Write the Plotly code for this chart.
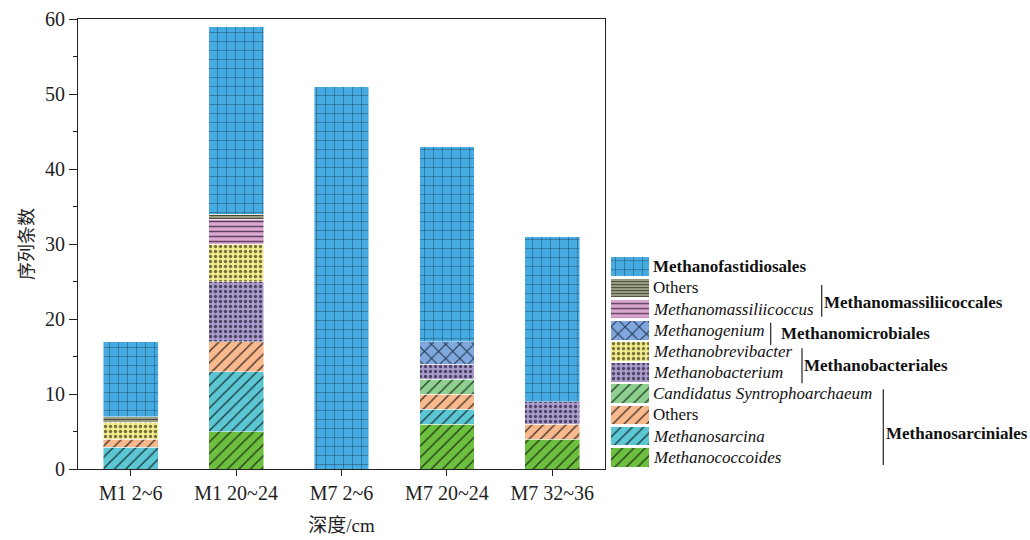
import plotly.graph_objects as go

# ---- data: sequence counts per sample (stacked, bottom to top) ----
samples = ["M1 2~6", "M1 20~24", "M7 2~6", "M7 20~24", "M7 32~36"]

methanococcoides = [0, 5, 0, 6, 4]
methanosarcina = [2.9, 8, 0, 2, 0]
others_sarciniales = [1.1, 4, 0, 2, 2]
candidatus_syntrophoarchaeum = [0, 0, 0, 2, 0]
methanobacterium = [0, 8, 0, 2, 3]
methanobrevibacter = [2.25, 5, 0, 0, 0]
methanogenium = [0, 0, 0, 3, 0]
methanomassiliicoccus = [0, 3.3, 0, 0, 0]
others_massiliicoccales = [0.75, 0.7, 0, 0, 0]
methanofastidiosales = [10, 25, 51, 26, 22]

y_ticks = [0, 10, 20, 30, 40, 50, 60]

# ---- series styling (bottom of stack first) ----
series = [
    dict(label="<i>Methanococcoides</i>", values=methanococcoides,
         color="#6cbf3f", shape="/", size=8, solidity=0.18, fg="#1b2a10"),
    dict(label="<i>Methanosarcina</i>", values=methanosarcina,
         color="#5cc6d3", shape="/", size=8, solidity=0.18, fg="#10282b"),
    dict(label="Others", values=others_sarciniales,
         color="#f8b98f", shape="/", size=8, solidity=0.18, fg="#2e2015"),
    dict(label="<i>Candidatus Syntrophoarchaeum</i>", values=candidatus_syntrophoarchaeum,
         color="#8fcf90", shape="/", size=8, solidity=0.18, fg="#15301a"),
    dict(label="<i>Methanobacterium</i>", values=methanobacterium,
         color="#a99bcb", shape=".", size=5, solidity=0.35, fg="#3d3450"),
    dict(label="<i>Methanobrevibacter</i>", values=methanobrevibacter,
         color="#f1ec8e", shape=".", size=5, solidity=0.35, fg="#5e5a2c"),
    dict(label="<i>Methanogenium</i>", values=methanogenium,
         color="#80a8dc", shape="x", size=10, solidity=0.2, fg="#10203a"),
    dict(label="<i>Methanomassiliicoccus</i>", values=methanomassiliicoccus,
         color="#dba8d3", shape="-", size=5, solidity=0.3, fg="#4b3049"),
    dict(label="Others", values=others_massiliicoccales,
         color="#a3a689", shape="-", size=3, solidity=0.4, fg="#3a3b2e"),
    dict(label="<b>Methanofastidiosales</b>", values=methanofastidiosales,
         color="#45abe1", shape="+", size=9, solidity=0.1, fg="#1a3550"),
]

# ---- layout geometry (pixels) ----
W, H = 1030, 540
ML, MR, MT, MB = 78, 10, 19, 71
PW, PH = W - ML - MR, H - MT - MB
PLOT_RIGHT = 605


def px_x(px):
    return (px - ML) / PW


def px_y(py):
    return (H - MB - py) / PH


SERIF = "Liberation Serif, Times New Roman, serif"
CJK = "Liberation Serif, Noto Sans CJK SC, serif"
TEXT = "#111111"
AXIS = "#222222"

fig = go.Figure()

for s in series:
    vals = [v if v else None for v in s["values"]]
    pat = dict(shape=s["shape"], size=s["size"], solidity=s["solidity"],
               fgcolor=s["fg"], fillmode="overlay", fgopacity=0.85)
    fig.add_trace(go.Bar(
        x=samples, y=vals, width=0.52, showlegend=False,
        marker=dict(color=s["color"], pattern=pat,
                    line=dict(width=0.6, color="rgba(255,255,255,0.8)")),
        xaxis="x", yaxis="y",
    ))

# legend swatches drawn as bars on a hidden auxiliary axis
legend_order = list(reversed(series))
for i, s in enumerate(legend_order):
    pat = dict(shape=s["shape"], size=s["size"], solidity=s["solidity"],
               fgcolor=s["fg"], fillmode="overlay", fgopacity=0.85)
    fig.add_trace(go.Bar(
        x=[1], y=[i], orientation="h", width=0.88, showlegend=False,
        marker=dict(color=s["color"], pattern=pat, line=dict(width=0)),
        xaxis="x2", yaxis="y2", hoverinfo="skip",
    ))
    fig.add_annotation(
        x=px_x(651), xref="paper", y=i, yref="y2", text=s["label"],
        showarrow=False, xanchor="left", yanchor="middle",
        font=dict(family=SERIF, size=17, color=TEXT),
    )

# order brackets next to the legend
groups = [
    ("Methanomassiliicoccales", 821.7, 285, 316.7, 822, 302.3),
    ("Methanomicrobiales", 770.7, 322.7, 345, 779, 333.3),
    ("Methanobacteriales", 802, 348.3, 383.3, 802, 365),
    ("Methanosarciniales", 883.3, 389.3, 465, 884, 433),
]
for name, lx, y0, y1, tx, ty in groups:
    fig.add_shape(type="line", xref="paper", yref="paper",
                  x0=px_x(lx), x1=px_x(lx), y0=px_y(y0), y1=px_y(y1),
                  line=dict(color=AXIS, width=1.2))
    fig.add_annotation(
        x=px_x(tx), xref="paper", y=px_y(ty), yref="paper",
        text=f"<b>{name}</b>", showarrow=False, xanchor="left", yanchor="middle",
        font=dict(family=SERIF, size=17, color=TEXT),
    )

fig.update_layout(
    width=W, height=H,
    margin=dict(l=ML, r=MR, t=MT, b=MB),
    paper_bgcolor="white", plot_bgcolor="white",
    barmode="stack", bargap=0.48,
    font=dict(family=SERIF, size=20, color=AXIS),
    xaxis=dict(
        domain=[0, px_x(PLOT_RIGHT)], type="category", range=[-0.5, 4.5],
        automargin=False,
        showline=True, linecolor=AXIS, linewidth=1.2, mirror=True,
        ticks="outside", ticklen=6, tickwidth=1.2, tickcolor=AXIS,
        tickfont=dict(family=SERIF, size=20, color=AXIS),
        showgrid=False, zeroline=False,
        title=dict(text="深度/cm", font=dict(family=CJK, size=19, color=AXIS), standoff=15),
    ),
    yaxis=dict(
        domain=[0, 1], range=[0, 60], tickvals=y_ticks,
        automargin=False,
        showline=True, linecolor=AXIS, linewidth=1.2, mirror=True,
        ticks="outside", ticklen=8, tickwidth=1.2, tickcolor=AXIS,
        minor=dict(ticks="outside", ticklen=4, dtick=5, tickwidth=1.2,
                   tickcolor=AXIS, showgrid=False),
        tickfont=dict(family=SERIF, size=20, color=AXIS),
        showgrid=False, zeroline=False,
        title=dict(text="序列条数", font=dict(family=CJK, size=18, color=AXIS), standoff=6),
    ),
    xaxis2=dict(domain=[px_x(611), px_x(649)], range=[0, 1], visible=False, anchor="y2"),
    yaxis2=dict(domain=[px_y(467.8), px_y(256.1)], range=[9.5, -0.5], visible=False, anchor="x2"),
)

fig.write_html("out.html")
